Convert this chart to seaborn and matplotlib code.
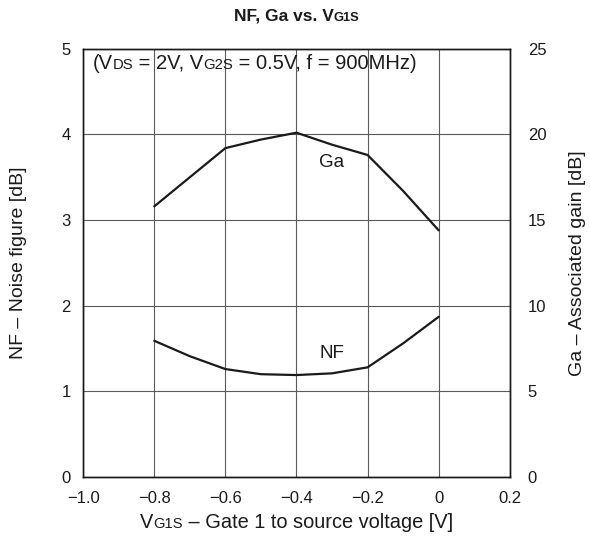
import matplotlib
matplotlib.use("Agg")
import matplotlib.pyplot as plt
from matplotlib.offsetbox import TextArea, HPacker, AnchoredOffsetbox
import numpy as np
import pandas as pd
import seaborn as sns

# data
vg1s = [-0.8, -0.7, -0.6, -0.5, -0.4, -0.3, -0.2, -0.1, 0.0]
nf = [1.59, 1.41, 1.26, 1.20, 1.19, 1.21, 1.28, 1.56, 1.87]
ga = [15.8, 17.5, 19.2, 19.7, 20.1, 19.4, 18.8, 16.7, 14.4]

x_ticks = [-1.0, -0.8, -0.6, -0.4, -0.2, 0.0, 0.2]
x_ticklabels = ["\u22121.0", "\u22120.8", "\u22120.6", "\u22120.4", "\u22120.2", "0", "0.2"]
nf_ticks = [0, 1, 2, 3, 4, 5]
ga_ticks = [0, 5, 10, 15, 20, 25]

df = pd.DataFrame({"vg1s": vg1s, "nf": nf, "ga": ga})

sns.set_style("white")
plt.rcParams["font.family"] = ["Liberation Sans", "DejaVu Sans"]

ink = "#1a1a1a"
fig = plt.figure(figsize=(5.9, 5.42), dpi=100)
ax = fig.add_axes([0.141, 0.120, 0.723, 0.790])
ax2 = ax.twinx()

sns.lineplot(data=df, x="vg1s", y="nf", ax=ax, color=ink, lw=1.6)
sns.lineplot(data=df, x="vg1s", y="ga", ax=ax2, color=ink, lw=1.6)

ax.set_xlim(-1.0, 0.2)
ax.set_ylim(0, 5)
ax2.set_ylim(0, 25)
ax.set_xticks(x_ticks)
ax.set_xticklabels(x_ticklabels)
ax.set_yticks(nf_ticks)
ax2.set_yticks(ga_ticks)
ax.grid(True, color="#5a5a5a", lw=0.8)
ax.set_axisbelow(True)

ax.tick_params(axis="x", length=0, labelsize=12, pad=10, colors=ink)
ax.tick_params(axis="y", length=0, labelsize=12, pad=9, colors=ink)
ax2.tick_params(axis="y", length=0, labelsize=12, pad=13, colors=ink)
for a in (ax, ax2):
    for s in a.spines.values():
        s.set_color(ink)
        s.set_linewidth(1.0)

ax.set_xlabel("")
ax.set_ylabel("NF \u2013 Noise figure [dB]", fontsize=14, va="center", color=ink)
ax.yaxis.set_label_coords(-0.152, 0.5)
ax2.set_ylabel("Ga \u2013 Associated gain [dB]", fontsize=14, va="center", color=ink)
ax2.yaxis.set_label_coords(1.159, 0.5)


def mixed(parts, size, weight="normal"):
    kids = []
    for txt, small in parts:
        kids.append(TextArea(txt, textprops=dict(fontsize=size * (0.74 if small else 1.0),
                                                 fontweight=weight, color=ink)))
    return HPacker(children=kids, align="baseline", pad=0, sep=0)


title = mixed([("NF, Ga vs. V", False), ("G1S", True)], 12.5, "bold")
fig.add_artist(AnchoredOffsetbox(loc="lower center", child=title, pad=0, borderpad=0,
                                 frameon=False, bbox_to_anchor=(0.5, 1.058),
                                 bbox_transform=ax.transAxes))

xlab = mixed([("V", False), ("G1S", True), (" \u2013 Gate 1 to source voltage [V]", False)], 14.4)
fig.add_artist(AnchoredOffsetbox(loc="upper center", child=xlab, pad=0, borderpad=0,
                                 frameon=False, bbox_to_anchor=(0.5, -0.085),
                                 bbox_transform=ax.transAxes))

cond = mixed([("(V", False), ("DS", True), (" = 2V, V", False), ("G2S", True),
              (" = 0.5V, f = 900MHz)", False)], 14.5)
ax.add_artist(AnchoredOffsetbox(loc="upper left", child=cond, pad=0, borderpad=0,
                                frameon=False, bbox_to_anchor=(0.022, 0.988),
                                bbox_transform=ax.transAxes))

ax.text(-0.3, 3.67, "Ga", fontsize=13.5, ha="center", va="center", color=ink)
ax.text(-0.3, 1.445, "NF", fontsize=13.5, ha="center", va="center", color=ink)

fig.savefig("out.png", dpi=100)
